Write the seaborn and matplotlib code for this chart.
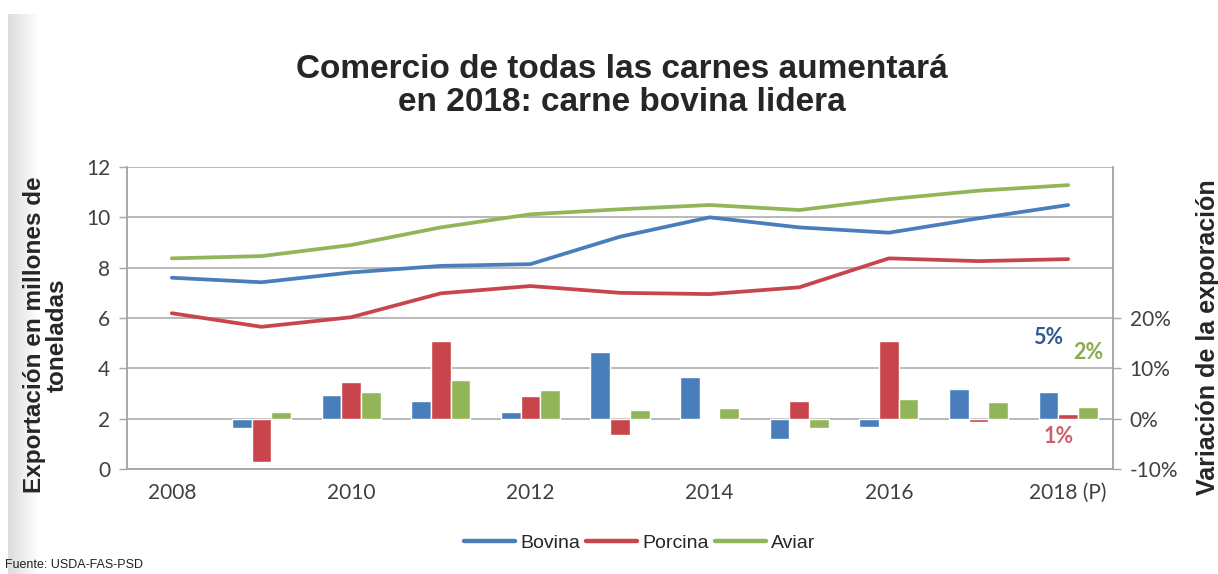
import numpy as np
import pandas as pd
import matplotlib
matplotlib.use("Agg")
import matplotlib.pyplot as plt
from matplotlib.lines import Line2D
import seaborn as sns

# ---- data ----
years = [2008, 2009, 2010, 2011, 2012, 2013, 2014, 2015, 2016, 2017, 2018]
year_labels = ["2008", "", "2010", "", "2012", "", "2014", "", "2016", "", "2018 (P)"]
series = ["Bovina", "Porcina", "Aviar"]
bovina = [7.60, 7.42, 7.81, 8.07, 8.14, 9.23, 10.00, 9.60, 9.39, 9.96, 10.49]
porcina = [6.19, 5.65, 6.03, 6.98, 7.27, 7.00, 6.95, 7.22, 8.37, 8.26, 8.34]
aviar = [8.37, 8.46, 8.90, 9.60, 10.12, 10.32, 10.49, 10.29, 10.72, 11.06, 11.28]
var_bovina = [np.nan, -1.9, 4.8, 3.6, 1.3, 13.3, 8.3, -4.0, -1.6, 5.8, 5.3]
var_porcina = [np.nan, -8.6, 7.3, 15.4, 4.6, -3.3, 0.2, 3.6, 15.4, -0.6, 1.0]
var_aviar = [np.nan, 1.3, 5.3, 7.6, 5.6, 1.8, 2.1, -1.9, 4.0, 3.3, 2.3]
left_ticks = [0, 2, 4, 6, 8, 10, 12]
right_ticks = [-10, 0, 10, 20]
right_tick_labels = ["-10%", "0%", "10%", "20%"]

colors = {"Bovina": "#4A7EBB", "Porcina": "#C8464B", "Aviar": "#93B55A"}

lines_df = pd.DataFrame({
    "pos": list(range(len(years))) * 3,
    "val": bovina + porcina + aviar,
    "carne": [s for s in series for _ in years],
})
bars_df = pd.DataFrame({
    "year": [str(y) for y in years] * 3,
    "var": var_bovina + var_porcina + var_aviar,
    "carne": [s for s in series for _ in years],
})

sns.set_style("white")
plt.rcParams["font.family"] = ["Liberation Sans", "DejaVu Sans"]

W, H = 1218, 574
fig = plt.figure(figsize=(W / 100, H / 100), dpi=100)
fig.patch.set_facecolor("white")

# faint gray strip on the left edge (slide background)
bg = fig.add_axes([8 / W, 0, 32 / W, 1 - 14 / H])
bg.imshow(np.linspace(0.86, 1.0, 64)[None, :], cmap="gray", vmin=0, vmax=1,
          aspect="auto", extent=[0, 1, 0, 1])
bg.axis("off")

ax = fig.add_axes([127 / W, 1 - 469 / H, (1113 - 127) / W, (469 - 167) / H])
ax2 = ax.twinx()

grid_c = "#A6A6A6"
tick_c = "#404040"

# bars (right axis)
sns.barplot(data=bars_df, x="year", y="var", hue="carne", order=[str(y) for y in years],
            hue_order=series, palette=colors, width=0.66, ax=ax2, legend=False,
            saturation=1, errorbar=None)
ax2.set_ylim(-10, 50)
ax2.set_yticks(right_ticks)
ax2.set_yticklabels(right_tick_labels)
ax2.set_xlabel("")
ax2.set_ylabel("")

# lines (left axis)
sns.lineplot(data=lines_df, x="pos", y="val", hue="carne", hue_order=series,
             palette=colors, linewidth=2.7, ax=ax, legend=False)
ax.set_ylim(0, 12)
ax.set_yticks(left_ticks)
ax.set_xlim(-0.5, len(years) - 0.5)
ax2.set_xlim(-0.5, len(years) - 0.5)
ax.set_xlabel("")
ax.set_ylabel("")
ax.yaxis.grid(True, color=grid_c, linewidth=1.1)
ax.set_axisbelow(True)

# x ticks: marks at category boundaries, labels at centers
ax.set_xticks(np.arange(-0.5, len(years), 1.0))
ax.set_xticklabels([])
ax.set_xticks(np.arange(len(years)), minor=True)
ax.set_xticklabels(year_labels, minor=True)
ax.tick_params(axis="x", which="major", direction="out", length=6, color=grid_c, width=1)
ax.tick_params(axis="x", which="minor", length=0, pad=10, labelsize=15, labelcolor=tick_c)
ax2.tick_params(axis="x", which="both", bottom=False, labelbottom=False, top=False)
ax.tick_params(axis="y", direction="out", length=6, color=grid_c, width=1,
               labelsize=15, labelcolor=tick_c, pad=6)
ax2.tick_params(axis="y", direction="out", length=6, color=grid_c, width=1,
                labelsize=15, labelcolor=tick_c, pad=6)
for a in (ax, ax2):
    for lab in a.get_xticklabels(which="both") + a.get_yticklabels():
        lab.set_family(["Lato", "DejaVu Sans"])

for a in (ax, ax2):
    a.spines["top"].set_visible(False)
    for s in ("left", "right", "bottom"):
        a.spines[s].set_color(grid_c)
        a.spines[s].set_linewidth(1.1)
ax.patch.set_visible(False)

# annotations for 2018
ax2.text(9.78, 16.1, "5%", color="#2F5A8F", fontsize=15.5, fontweight="bold",
         ha="center", va="center", family=["Lato", "DejaVu Sans"])
ax2.text(10.22, 13.1, "2%", color="#8AAA4E", fontsize=15.5, fontweight="bold",
         ha="center", va="center", family=["Lato", "DejaVu Sans"])
ax2.text(9.89, -3.6, "1%", color="#C9606A", fontsize=15.5, fontweight="bold",
         ha="center", va="center", family=["Lato", "DejaVu Sans"])

# titles / labels
fig.text(622 / W, 1 - 86 / H, "Comercio de todas las carnes aumentará\nen 2018: carne bovina lidera",
         ha="center", va="center", fontsize=24, fontweight="bold", linespacing=1.05)
fig.text(46 / W, 1 - 335 / H, "Exportación en millones de\ntoneladas", rotation=90,
         ha="center", va="center", fontsize=17.5, fontweight="bold", multialignment="center",
         linespacing=1.0)
fig.text(1208 / W, 1 - 337 / H, "Variación de la exporación", rotation=90,
         ha="center", va="center", fontsize=18, fontweight="bold")

# legend
handles = [Line2D([0], [0], color=colors[s], lw=3.2) for s in series]
fig.legend(handles, series, loc="center", bbox_to_anchor=(640 / W, 1 - 543 / H), ncol=3,
           frameon=False, handlelength=2.6, columnspacing=0.3, handletextpad=0.3,
           prop={"family": ["Liberation Sans Narrow", "Liberation Sans"], "size": 14})

fig.text(5 / W, 1 - 565 / H, "Fuente: USDA-FAS-PSD", ha="left", va="center", fontsize=9,
         family=["Liberation Sans Narrow", "Liberation Sans"], color="#202020")

fig.savefig("out.png", dpi=100)
